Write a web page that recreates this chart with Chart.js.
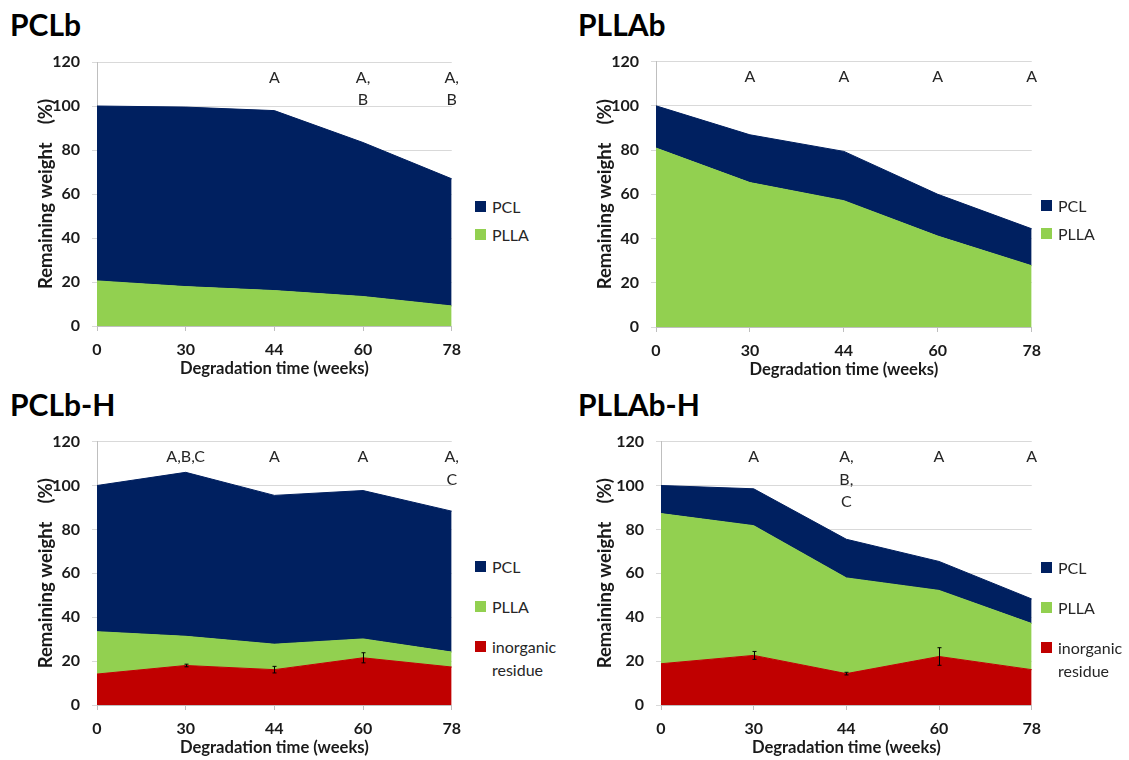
<!DOCTYPE html>
<html>
<head>
<meta charset="utf-8">
<script src="https://cdn.jsdelivr.net/npm/chart.js@4"></script>
<style>
  html,body{margin:0;padding:0;background:#fff;}
  #wrap{position:relative;width:1129px;height:760px;background:#fff;overflow:hidden;font-family:Lato,"Open Sans",sans-serif;}
  canvas{position:absolute;}
  .ptitle{position:absolute;font-weight:bold;font-size:30px;line-height:30px;color:#000;white-space:nowrap;}
  .leg{position:absolute;font-size:16px;line-height:23px;color:#262626;}
  .leg .sw{position:absolute;left:0;width:11px;height:11px;}
  .leg .tx{position:absolute;left:17px;white-space:nowrap;}
</style>
</head>
<body>
<div id="wrap">
  <div class="ptitle" style="left:10px;top:9px">PCLb</div>
  <div class="ptitle" style="left:578px;top:9px">PLLAb</div>
  <div class="ptitle" style="left:10px;top:389px">PCLb-H</div>
  <div class="ptitle" style="left:578px;top:389px">PLLAb-H</div>
  <canvas id="c1" width="470" height="345" style="left:0px;top:40px"></canvas>
  <canvas id="c2" width="490" height="345" style="left:560px;top:40px"></canvas>
  <canvas id="c3" width="470" height="340" style="left:0px;top:420px"></canvas>
  <canvas id="c4" width="490" height="340" style="left:560px;top:420px"></canvas>
  <div id="legends"></div>
</div>
<script>
// ---------- data ----------
const categories = ["0", "30", "44", "60", "78"];
const yTickValues = [0, 20, 40, 60, 80, 100, 120];

// PCLb
const pclbPLLA = [20.5, 17.9, 16.1, 13.4, 9.1];
const pclbPCL = [79.5, 81.6, 81.8, 70.0, 57.8];
const pclbLetters = ["", "", "A", "A,\nB", "A,\nB"];

// PLLAb
const pllabPLLA = [80.9, 65.3, 57.1, 41.1, 27.7];
const pllabPCL = [19.1, 21.6, 22.3, 18.9, 16.7];
const pllabLetters = ["", "A", "A", "A", "A"];

// PCLb-H
const pclbhInorganic = [14.1, 18.0, 16.1, 21.5, 17.3];
const pclbhInorganicErr = [0, 0.6, 1.5, 2.3, 0];
const pclbhPLLA = [19.3, 13.3, 11.6, 8.6, 6.8];
const pclbhPCL = [66.6, 74.7, 67.8, 67.6, 64.2];
const pclbhLetters = ["", "A,B,C", "A", "A", "A,\nC"];

// PLLAb-H
const pllabhInorganic = [18.8, 22.6, 14.3, 22.1, 16.1];
const pllabhInorganicErr = [0, 1.8, 0.6, 4.0, 0];
const pllabhPLLA = [68.4, 59.1, 43.6, 30.1, 21.0];
const pllabhPCL = [12.8, 16.8, 17.6, 13.2, 11.2];
const pllabhLetters = ["", "A", "A,\nB,\nC", "A", "A"];

const seriesNames = {pcl: "PCL", plla: "PLLA", inorg: "inorganic residue"};
const xTitle = "Degradation time (weeks)";
const yTitle = "Remaining weight    (%)";

// ---------- style ----------
const COL = {pcl: "#002060", plla: "#92d050", inorg: "#c00000"};
const FONT = "Lato";

function ds(label, data, color, fill) {
  return {label, data, backgroundColor: color, borderColor: color, borderWidth: 1,
          fill, pointRadius: 0, tension: 0};
}

function marksPlugin(letters, errs) {
  return {
    id: 'marks',
    afterDatasetsDraw(chart) {
      const ctx = chart.ctx, x = chart.scales.x, y = chart.scales.y;
      ctx.save();
      if (errs) {
        const vals = chart.data.datasets[0].data;
        ctx.strokeStyle = "#000";
        ctx.lineWidth = 1;
        errs.forEach((e, i) => {
          if (!e) return;
          const px = Math.round(x.getPixelForValue(i)) + 0.5;
          const y1 = y.getPixelForValue(vals[i] - e), y2 = y.getPixelForValue(vals[i] + e);
          ctx.beginPath();
          ctx.moveTo(px, y1); ctx.lineTo(px, y2);
          ctx.moveTo(px - 2, y1); ctx.lineTo(px + 2, y1);
          ctx.moveTo(px - 2, y2); ctx.lineTo(px + 2, y2);
          ctx.stroke();
        });
      }
      ctx.font = "16px " + FONT;
      ctx.fillStyle = "#262626";
      ctx.textAlign = "center";
      ctx.textBaseline = "middle";
      letters.forEach((t, i) => {
        if (!t) return;
        t.split("\n").forEach((line, j) => {
          ctx.fillText(line, x.getPixelForValue(i), y.getPixelForValue(113) + j * 22.5);
        });
      });
      ctx.restore();
    }
  };
}

function makeChart(id, geo, datasets, letters, errs) {
  return new Chart(document.getElementById(id), {
    type: 'line',
    data: {labels: categories, datasets},
    options: {
      responsive: false, animation: false, devicePixelRatio: 1,
      layout: {padding: {left: 0, top: geo.padTop, right: geo.padRight, bottom: geo.padBottom}},
      plugins: {legend: {display: false}, tooltip: {enabled: false}, filler: {propagate: false}},
      scales: {
        x: {
          offset: false,
          grid: {drawOnChartArea: false, drawTicks: true, tickLength: 5, color: "#bfbfbf"},
          border: {color: "#bfbfbf"},
          ticks: {color: "#1a1a1a", font: {family: FONT, size: 16, weight: "bold"}, padding: 9, maxRotation: 0},
          title: {display: true, text: xTitle, color: "#1a1a1a", font: {family: FONT, size: 16.6, weight: "bold"}, padding: 0},
          afterFit(s) { s.height = geo.xH; }
        },
        y: {
          stacked: true, min: 0, max: 120,
          afterBuildTicks(s) { s.ticks = yTickValues.map(v => ({value: v})); },
          grid: {color: "#d9d9d9", tickLength: 5},
          border: {color: "#bfbfbf"},
          ticks: {color: "#1a1a1a", font: {family: FONT, size: 16, weight: "bold"}, padding: 12},
          title: {display: true, text: yTitle, color: "#1a1a1a", font: {family: FONT, size: 18.5, weight: "bold"}, padding: {top: geo.yTitlePad, bottom: 0}},
          afterFit(s) { s.width = geo.yW; }
        }
      }
    },
    plugins: [marksPlugin(letters, errs)]
  });
}

makeChart('c1', {padTop: 22, padRight: 18, padBottom: 6, xH: 53, yW: 97, yTitlePad: 35}, [
  ds(seriesNames.plla, pclbPLLA, COL.plla, 'origin'),
  ds(seriesNames.pcl, pclbPCL, COL.pcl, '-1')
], pclbLetters, null);

makeChart('c2', {padTop: 19, padRight: 18, padBottom: 5, xH: 53, yW: 96, yTitlePad: 34}, [
  ds(seriesNames.plla, pllabPLLA, COL.plla, 'origin'),
  ds(seriesNames.pcl, pllabPCL, COL.pcl, '-1')
], pllabLetters, null);

makeChart('c3', {padTop: 19, padRight: 18, padBottom: 2, xH: 53, yW: 97, yTitlePad: 35}, [
  ds(seriesNames.inorg, pclbhInorganic, COL.inorg, 'origin'),
  ds(seriesNames.plla, pclbhPLLA, COL.plla, '-1'),
  ds(seriesNames.pcl, pclbhPCL, COL.pcl, '-1')
], pclbhLetters, pclbhInorganicErr);

makeChart('c4', {padTop: 18, padRight: 17, padBottom: 2, xH: 53, yW: 101, yTitlePad: 34}, [
  ds(seriesNames.inorg, pllabhInorganic, COL.inorg, 'origin'),
  ds(seriesNames.plla, pllabhPLLA, COL.plla, '-1'),
  ds(seriesNames.pcl, pllabhPCL, COL.pcl, '-1')
], pllabhLetters, pllabhInorganicErr);

// ---------- HTML legends ----------
const legendDefs = [
  {left: 475, items: [[seriesNames.pcl, COL.pcl, 206], [seriesNames.plla, COL.plla, 234]]},
  {left: 1041, items: [[seriesNames.pcl, COL.pcl, 205], [seriesNames.plla, COL.plla, 233]]},
  {left: 475, items: [[seriesNames.pcl, COL.pcl, 566], [seriesNames.plla, COL.plla, 606], [seriesNames.inorg, COL.inorg, 646]]},
  {left: 1041, items: [[seriesNames.pcl, COL.pcl, 567], [seriesNames.plla, COL.plla, 607], [seriesNames.inorg, COL.inorg, 647]]}
];
const lg = document.getElementById('legends');
legendDefs.forEach(d => {
  d.items.forEach(([name, color, cy]) => {
    const el = document.createElement('div');
    el.className = 'leg';
    el.style.left = d.left + 'px';
    el.style.top = (cy - 11.5) + 'px';
    const sw = document.createElement('div');
    sw.className = 'sw'; sw.style.background = color; sw.style.top = '6px';
    const tx = document.createElement('div');
    tx.className = 'tx';
    const words = name.split(' ');
    tx.innerHTML = words.length > 1 ? words[0] + '<br>' + words.slice(1).join(' ') : name;
    el.appendChild(sw); el.appendChild(tx);
    lg.appendChild(el);
  });
});
</script>
</body>
</html>
